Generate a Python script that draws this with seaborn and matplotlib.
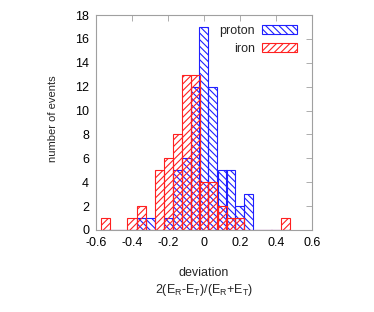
import matplotlib
matplotlib.use("Agg")
import matplotlib.pyplot as plt
import seaborn as sns
import numpy as np
import pandas as pd

# Bin centres (width 0.05) and counts
proton_centers = [-0.35, -0.30, -0.20, -0.15, -0.10, -0.05, 0.00, 0.05, 0.10, 0.15, 0.20, 0.25]
proton_counts = [1, 1, 1, 5, 6, 12, 17, 12, 5, 5, 2, 3]
iron_centers = [-0.55, -0.40, -0.35, -0.25, -0.20, -0.15, -0.10, -0.05, 0.00, 0.05, 0.10, 0.15, 0.20, 0.45]
iron_counts = [1, 1, 2, 5, 6, 8, 13, 13, 4, 4, 2, 1, 1, 1]
x_ticks = [-0.6, -0.4, -0.2, 0, 0.2, 0.4, 0.6]
x_tick_labels = ["-0.6", "-0.4", "-0.2", "0", "0.2", "0.4", "0.6"]
y_ticks = [0, 2, 4, 6, 8, 10, 12, 14, 16, 18]

sns.set_style("white")
plt.rcParams['font.family'] = ['Liberation Sans', 'DejaVu Sans']
plt.rcParams['hatch.linewidth'] = 0.8
plt.rcParams['mathtext.fontset'] = 'custom'
plt.rcParams['mathtext.rm'] = 'Liberation Sans'

fig = plt.figure(figsize=(3.74, 3.12), dpi=100)
ax = fig.add_axes([96/374, 1 - 230/312, 216/374, 215/312])

blue = '#2020ff'
red = '#ff2020'

series = [
    ("proton", proton_centers, proton_counts, blue, '\\' * 5),
    ("iron", iron_centers, iron_counts, red, '/' * 5),
]
handles = []
for label, centers, counts, color, hatch in series:
    df = pd.DataFrame({"x": centers, "w": counts})
    n_before = len(ax.patches)
    sns.histplot(data=df, x="x", weights="w", bins=21, binrange=(-0.575, 0.475),
                 ax=ax, fill=True, element="bars", stat="count")
    new = ax.patches[n_before:]
    for p in new:
        p.set_alpha(None)
        p.set_facecolor('none')
        p.set_edgecolor(color)
        p.set_hatch(hatch)
        p.set_linewidth(0.8)
    h = matplotlib.patches.Patch(facecolor='none', edgecolor=color, hatch=hatch,
                                 linewidth=0.8, label=label)
    handles.append(h)

ax.set_xlim(-0.6, 0.6)
ax.set_ylim(0, 18)
ax.set_xticks(x_ticks)
ax.set_xticklabels(x_tick_labels)
ax.set_yticks(y_ticks)
ax.tick_params(direction='in', length=4, width=0.6, color='#a0a0a0',
               top=True, right=True, labelsize=9, labelcolor='black', pad=5)
for s in ax.spines.values():
    s.set_color('#a0a0a0')
    s.set_linewidth(0.8)

ax.set_ylabel("number of events", fontsize=8)
ax.yaxis.set_label_coords(-0.175, 0.52)
ax.set_xlabel("deviation\n" + r"2(E$_\mathregular{R}$-E$_\mathregular{T}$)/(E$_\mathregular{R}$+E$_\mathregular{T}$)",
              fontsize=9, labelpad=13, linespacing=1.3)

leg = ax.legend(handles=handles, loc='upper right', frameon=False, markerfirst=False,
                fontsize=9, handlelength=2.8, handleheight=0.7, labelspacing=0.45,
                bbox_to_anchor=(0.95, 0.97), borderaxespad=0.0, borderpad=0.3,
                handletextpad=0.6)

fig.savefig("out.png", dpi=100)
